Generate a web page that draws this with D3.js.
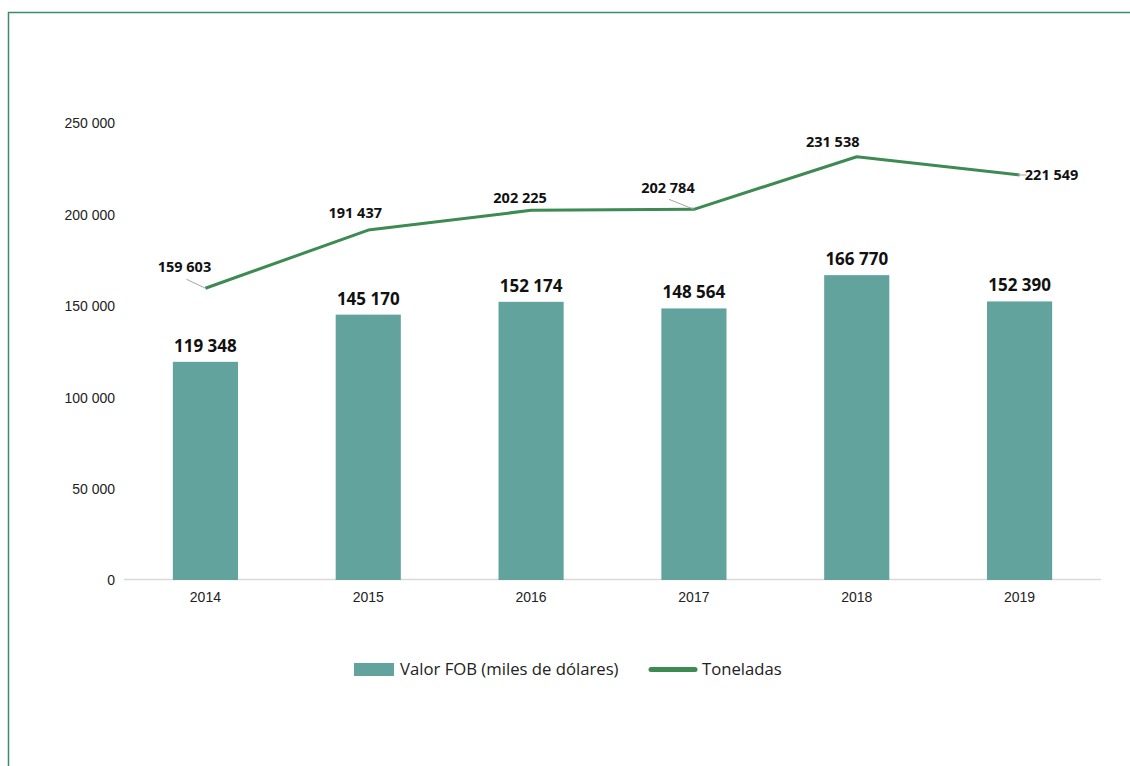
<!DOCTYPE html>
<html>
<head>
<meta charset="utf-8">
<script src="https://cdn.jsdelivr.net/npm/d3@7"></script>
<style>
  html, body { margin: 0; padding: 0; background: #fff; }
  svg { display: block; }
</style>
</head>
<body>
<svg id="chart" width="1130" height="766"></svg>
<script>
// Exportaciones: valor FOB (barras) y volumen en toneladas (línea)
const years = ["2014", "2015", "2016", "2017", "2018", "2019"];
const valorFOB = [119348, 145170, 152174, 148564, 166770, 152390];
const toneladas = [159603, 191437, 202225, 202784, 231538, 221549];
const yTicks = [0, 50000, 100000, 150000, 200000, 250000];
const legendLabels = ["Valor FOB (miles de dólares)", "Toneladas"];

const barColor = "#62a39e";
const lineColor = "#3d8a53";

const svg = d3.select("#chart");
const fmt = v => d3.format(",")(v).replace(/,/g, " ");

// frame
svg.append("path")
  .attr("d", "M8.5,766 L8.5,12.5 L1130,12.5")
  .attr("fill", "none")
  .attr("stroke", "#3f8a6b")
  .attr("stroke-width", 1.5);

const margin = { left: 124, right: 1101, top: 123, bottom: 580 };

const x = d3.scaleBand()
  .domain(years)
  .range([margin.left, margin.right])
  .paddingInner(0.6)
  .paddingOuter(0.3);

const y = d3.scaleLinear()
  .domain([0, 250000])
  .range([margin.bottom, margin.top]);

// y axis labels (no line, no ticks)
const yAxis = d3.axisLeft(y).tickValues(yTicks).tickFormat(fmt).tickSize(0).tickPadding(0);
const gy = svg.append("g").attr("transform", "translate(115,0)").call(yAxis);
gy.select(".domain").remove();
gy.selectAll("text")
  .attr("font-family", "Liberation Sans, Arial, sans-serif")
  .attr("font-size", 14)
  .attr("fill", "#222")
  .attr("dy", "0.35em");

// x axis baseline
svg.append("line")
  .attr("x1", margin.left).attr("x2", margin.right)
  .attr("y1", y(0) - 0.5).attr("y2", y(0) - 0.5)
  .attr("stroke", "#d9d9d9").attr("stroke-width", 1.5);

const xAxis = d3.axisBottom(x).tickSize(0).tickPadding(0);
const gx = svg.append("g").attr("transform", `translate(0,${y(0)})`).call(xAxis);
gx.select(".domain").remove();
gx.selectAll("text")
  .attr("font-family", "Liberation Sans, Arial, sans-serif")
  .attr("font-size", 14)
  .attr("fill", "#222")
  .attr("dy", "1.6em");

// bars
svg.append("g").selectAll("rect")
  .data(years)
  .join("rect")
  .attr("x", d => x(d))
  .attr("width", x.bandwidth())
  .attr("y", (d, i) => y(valorFOB[i]))
  .attr("height", (d, i) => y(0) - y(valorFOB[i]))
  .attr("fill", barColor);

// bar value labels
svg.append("g").selectAll("text")
  .data(years)
  .join("text")
  .attr("x", d => x(d) + x.bandwidth() / 2)
  .attr("y", (d, i) => y(valorFOB[i]) - 10)
  .attr("text-anchor", "middle")
  .attr("font-family", "Open Sans, sans-serif")
  .attr("font-weight", 700)
  .attr("font-size", 17)
  .attr("fill", "#111")
  .text((d, i) => fmt(valorFOB[i]));

// tonnage line
const cx = d => x(d) + x.bandwidth() / 2;
const line = d3.line()
  .x((d, i) => cx(years[i]))
  .y(d => y(d));
svg.append("path")
  .datum(toneladas)
  .attr("d", line)
  .attr("fill", "none")
  .attr("stroke", lineColor)
  .attr("stroke-width", 3)
  .attr("stroke-linejoin", "round");

// line labels: offset from point [dx, dy], plus optional leader line
const lineLabelOffsets = [
  { dx: -21, dy: -21, leader: [[-19, -9], [0, 0]] },
  { dx: -13, dy: -17 },
  { dx: -11, dy: -12 },
  { dx: -26, dy: -21, leader: [[-25, -10], [0, 0]] },
  { dx: -24, dy: -15 },
  { dx: 32, dy: 0, leader: [[-2, 0], [7, 0]] }
];

const gl = svg.append("g");
toneladas.forEach((v, i) => {
  const px = cx(years[i]), py = y(v);
  const o = lineLabelOffsets[i];
  if (o.leader) {
    gl.append("line")
      .attr("x1", px + o.leader[0][0]).attr("y1", py + o.leader[0][1])
      .attr("x2", px + o.leader[1][0]).attr("y2", py + o.leader[1][1])
      .attr("stroke", "#a6a6a6").attr("stroke-width", 1);
  }
  gl.append("text")
    .attr("x", px + o.dx)
    .attr("y", py + o.dy)
    .attr("dy", "0.35em")
    .attr("text-anchor", "middle")
    .attr("font-family", "Open Sans, sans-serif")
    .attr("font-weight", 700)
    .attr("font-size", 14.5)
    .attr("fill", "#111")
    .text(fmt(v));
});

// legend
const lg = svg.append("g");
lg.append("rect")
  .attr("x", 354).attr("y", 663).attr("width", 40).attr("height", 13)
  .attr("fill", barColor);
lg.append("text")
  .attr("x", 400).attr("y", 669.5).attr("dy", "0.35em")
  .attr("font-family", "Open Sans, sans-serif")
  .attr("font-size", 16.7)
  .attr("fill", "#222")
  .text(legendLabels[0]);
lg.append("line")
  .attr("x1", 651).attr("x2", 695).attr("y1", 669.5).attr("y2", 669.5)
  .attr("stroke", lineColor).attr("stroke-width", 5).attr("stroke-linecap", "round");
lg.append("text")
  .attr("x", 702).attr("y", 669.5).attr("dy", "0.35em")
  .attr("font-family", "Open Sans, sans-serif")
  .attr("font-size", 16.7)
  .attr("fill", "#222")
  .text(legendLabels[1]);
</script>
</body>
</html>
